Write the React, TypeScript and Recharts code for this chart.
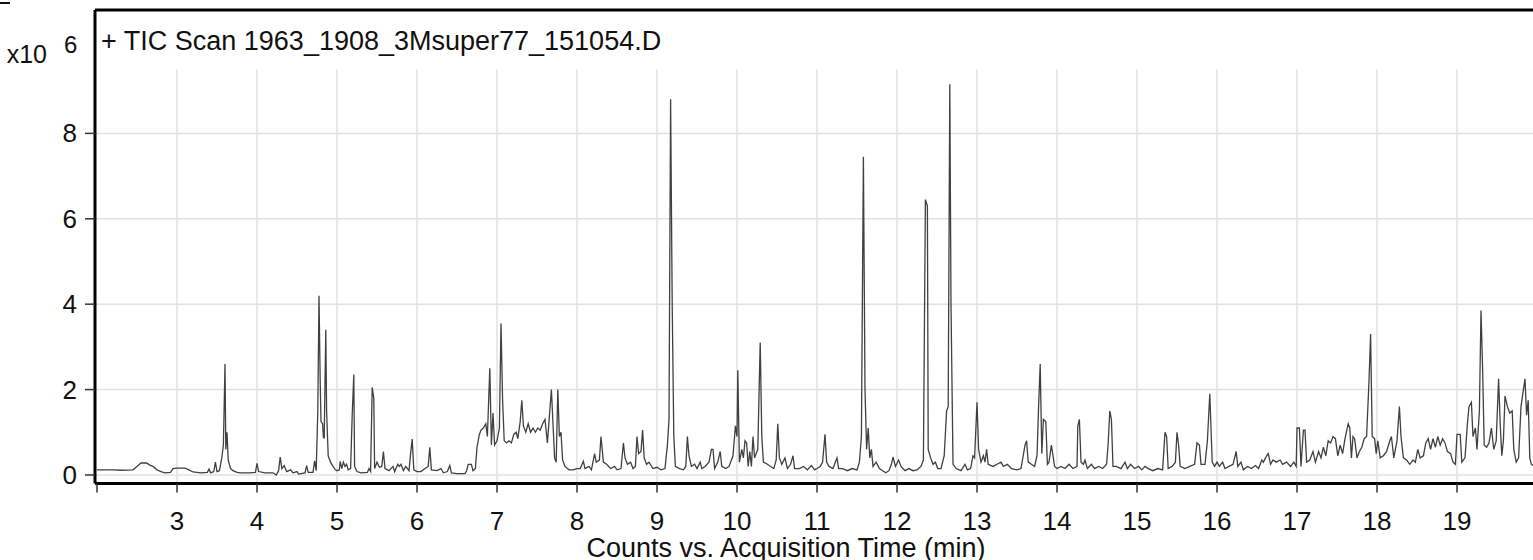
import React from 'react';
import { LineChart, Line, XAxis, YAxis, CartesianGrid, ReferenceLine } from 'recharts';

type Pt = [number, number];

// Total ion current (x10^6 counts) vs acquisition time (min)
const trace2to5: Pt[] = [
  [2.0,0.12],[2.2,0.12],[2.3,0.11],[2.45,0.12],[2.5,0.2],[2.55,0.28],[2.62,0.28],[2.66,0.23],[2.7,0.2],[2.75,0.12],
  [2.8,0.08],[2.85,0.05],[2.92,0.06],[2.95,0.15],[3.0,0.16],[3.1,0.16],[3.15,0.12],[3.2,0.07],[3.3,0.05],[3.38,0.06],
  [3.4,0.14],[3.42,0.05],[3.46,0.08],[3.48,0.3],[3.5,0.08],[3.53,0.1],[3.56,0.4],[3.58,0.7],[3.6,2.6],[3.61,0.6],
  [3.625,1.0],[3.64,0.35],[3.67,0.15],[3.7,0.1],[3.75,0.06],[3.8,0.05],[3.9,0.05],[3.98,0.06],[4.0,0.27],[4.02,0.08],
  [4.1,0.05],[4.2,0.05],[4.24,0.0],[4.27,0.1],[4.29,0.42],[4.31,0.15],[4.34,0.22],[4.37,0.08],[4.42,0.12],[4.45,0.05],
  [4.5,0.08],[4.52,0.02],[4.6,0.05],[4.62,0.22],[4.64,0.06],[4.7,0.06],[4.72,0.33],[4.74,0.1],[4.76,1.5],[4.775,4.2],
  [4.79,2.2],[4.8,1.25],[4.82,1.2],[4.83,0.88],[4.84,0.87],[4.86,3.4],[4.87,1.5],[4.89,0.45],[4.92,0.3],[4.95,0.2],[4.98,0.12],
];

const trace5to8: Pt[] = [
  [5.0,0.1],[5.03,0.12],[5.04,0.32],[5.06,0.15],[5.08,0.3],[5.1,0.2],[5.12,0.25],[5.14,0.12],[5.17,0.15],[5.19,1.4],
  [5.21,2.35],[5.22,0.2],[5.25,0.08],[5.3,0.05],[5.38,0.06],[5.4,0.15],[5.42,0.08],[5.44,2.05],[5.46,1.8],[5.47,0.15],
  [5.5,0.3],[5.53,0.18],[5.56,0.2],[5.58,0.55],[5.6,0.15],[5.65,0.1],[5.7,0.2],[5.72,0.08],[5.76,0.25],[5.78,0.2],
  [5.8,0.25],[5.83,0.1],[5.86,0.2],[5.9,0.1],[5.92,0.5],[5.94,0.84],[5.96,0.12],[6.0,0.08],[6.05,0.08],[6.1,0.15],
  [6.14,0.2],[6.16,0.65],[6.18,0.12],[6.25,0.1],[6.3,0.15],[6.33,0.05],[6.38,0.08],[6.41,0.22],[6.43,0.05],[6.5,0.03],
  [6.6,0.03],[6.62,0.1],[6.64,0.25],[6.68,0.25],[6.7,0.1],[6.73,0.15],[6.75,0.65],[6.78,0.95],[6.8,1.05],[6.83,1.1],
  [6.86,1.2],[6.88,0.9],[6.91,2.5],[6.93,0.7],[6.95,1.45],[6.97,0.7],[7.0,0.8],[7.03,1.1],[7.05,3.55],[7.07,1.75],
  [7.09,0.8],[7.12,0.75],[7.15,0.8],[7.18,0.75],[7.21,0.95],[7.24,1.0],[7.26,0.85],[7.29,1.25],[7.31,1.75],[7.33,1.15],
  [7.36,1.0],[7.39,1.2],[7.42,1.0],[7.45,1.1],[7.48,1.0],[7.51,1.1],[7.54,1.05],[7.57,1.2],[7.6,1.3],[7.63,0.75],
  [7.66,1.5],[7.68,2.0],[7.7,1.2],[7.72,0.4],[7.74,0.3],[7.76,2.0],[7.78,0.9],[7.8,1.0],[7.82,0.35],[7.85,0.2],
  [7.9,0.12],[7.95,0.12],
];

const trace8to11: Pt[] = [
  [8.0,0.15],[8.04,0.15],[8.08,0.32],[8.1,0.15],[8.15,0.2],[8.18,0.12],[8.22,0.5],[8.24,0.3],[8.28,0.35],[8.3,0.9],
  [8.33,0.3],[8.37,0.25],[8.42,0.15],[8.47,0.2],[8.5,0.12],[8.55,0.15],[8.58,0.75],[8.6,0.4],[8.63,0.25],[8.67,0.3],
  [8.7,0.15],[8.73,0.2],[8.75,0.9],[8.77,0.5],[8.8,0.55],[8.82,1.05],[8.84,0.4],[8.87,0.25],[8.9,0.3],[8.95,0.15],
  [9.0,0.18],[9.05,0.12],[9.1,0.15],[9.13,0.7],[9.15,1.3],[9.17,8.8],[9.19,4.0],[9.21,0.9],[9.23,0.2],[9.28,0.15],
  [9.33,0.12],[9.36,0.2],[9.38,0.9],[9.4,0.45],[9.43,0.2],[9.47,0.25],[9.5,0.15],[9.54,0.3],[9.56,0.15],[9.6,0.2],
  [9.65,0.3],[9.68,0.6],[9.7,0.6],[9.72,0.15],[9.76,0.3],[9.79,0.55],[9.81,0.2],[9.86,0.15],[9.9,0.2],[9.95,0.45],
  [9.98,1.15],[10.0,0.9],[10.01,2.45],[10.03,0.3],[10.06,0.6],[10.08,0.4],[10.1,0.8],[10.12,0.75],[10.14,0.2],[10.16,0.55],
  [10.18,0.2],[10.2,0.9],[10.22,0.4],[10.26,0.6],[10.29,3.1],[10.31,0.9],[10.33,0.3],[10.38,0.25],[10.42,0.2],[10.46,0.15],
  [10.49,0.35],[10.51,1.2],[10.53,0.4],[10.56,0.25],[10.6,0.4],[10.63,0.15],[10.67,0.25],[10.7,0.45],[10.72,0.15],[10.78,0.15],
  [10.83,0.2],[10.88,0.12],[10.93,0.22],[10.97,0.12],
];

const trace11to14: Pt[] = [
  [11.0,0.15],[11.04,0.2],[11.07,0.3],[11.1,0.95],[11.12,0.3],[11.15,0.2],[11.2,0.15],[11.25,0.4],[11.27,0.15],[11.32,0.15],
  [11.38,0.1],[11.44,0.15],[11.5,0.12],[11.53,0.3],[11.555,0.9],[11.58,7.45],[11.6,2.0],[11.62,0.6],[11.64,1.1],[11.66,0.4],
  [11.68,0.6],[11.7,0.2],[11.74,0.3],[11.78,0.15],[11.82,0.1],[11.86,0.05],[11.9,0.1],[11.93,0.25],[11.95,0.42],[11.98,0.2],
  [12.02,0.35],[12.05,0.2],[12.1,0.1],[12.15,0.15],[12.2,0.1],[12.25,0.12],[12.3,0.2],[12.33,0.35],[12.355,6.45],[12.38,6.3],
  [12.39,0.6],[12.42,0.4],[12.45,0.25],[12.48,0.3],[12.51,0.15],[12.55,0.15],[12.59,0.45],[12.62,1.5],[12.64,1.6],[12.66,9.15],
  [12.675,4.0],[12.7,0.25],[12.74,0.15],[12.8,0.1],[12.85,0.25],[12.88,0.12],[12.92,0.15],[12.95,0.45],[12.97,0.4],[13.0,1.7],
  [13.02,0.6],[13.05,0.3],[13.08,0.45],[13.1,0.3],[13.12,0.6],[13.14,0.25],[13.2,0.2],[13.25,0.25],[13.3,0.3],[13.33,0.2],
  [13.38,0.25],[13.43,0.15],[13.5,0.12],[13.55,0.15],[13.6,0.7],[13.62,0.8],[13.64,0.3],[13.68,0.25],[13.72,0.2],[13.75,0.45],
  [13.77,1.6],[13.79,2.6],[13.81,0.5],[13.83,1.3],[13.86,1.25],[13.88,0.25],[13.9,0.3],[13.93,0.7],[13.95,0.45],[13.97,0.2],
];

const trace14to17: Pt[] = [
  [14.0,0.15],[14.05,0.2],[14.1,0.15],[14.15,0.25],[14.2,0.15],[14.25,0.2],[14.26,1.15],[14.28,1.3],[14.3,0.3],[14.33,0.25],
  [14.35,0.35],[14.38,0.15],[14.43,0.25],[14.47,0.15],[14.52,0.2],[14.57,0.15],[14.62,0.25],[14.64,0.75],[14.66,1.5],[14.68,1.3],
  [14.7,0.2],[14.74,0.2],[14.8,0.15],[14.85,0.3],[14.88,0.15],[14.92,0.25],[14.97,0.15],[15.02,0.2],[15.06,0.12],[15.1,0.2],
  [15.14,0.15],[15.2,0.1],[15.26,0.15],[15.32,0.12],[15.35,1.0],[15.37,0.9],[15.39,0.15],[15.44,0.2],[15.48,0.3],[15.5,1.0],
  [15.52,0.7],[15.54,0.2],[15.6,0.15],[15.66,0.2],[15.72,0.25],[15.75,0.75],[15.78,0.7],[15.8,0.25],[15.85,0.25],[15.88,0.8],
  [15.91,1.9],[15.94,0.3],[15.97,0.2],[16.0,0.3],[16.03,0.2],[16.07,0.3],[16.1,0.15],[16.15,0.2],[16.2,0.25],[16.24,0.55],
  [16.26,0.2],[16.3,0.3],[16.33,0.12],[16.38,0.2],[16.43,0.15],[16.48,0.22],[16.52,0.15],[16.56,0.35],[16.58,0.3],[16.62,0.45],
  [16.64,0.5],[16.67,0.25],[16.7,0.35],[16.74,0.3],[16.79,0.35],[16.82,0.25],[16.87,0.3],[16.92,0.2],[16.96,0.3],[16.99,0.2],
];

const trace17to20: Pt[] = [
  [17.0,1.1],[17.03,1.1],[17.05,0.2],[17.08,1.05],[17.1,1.05],[17.12,0.3],[17.16,0.35],[17.2,0.55],[17.23,0.3],[17.27,0.55],
  [17.3,0.4],[17.33,0.65],[17.36,0.45],[17.39,0.8],[17.42,0.75],[17.45,0.9],[17.48,0.85],[17.51,0.45],[17.54,0.7],[17.57,0.5],
  [17.6,0.85],[17.64,1.2],[17.66,1.1],[17.68,0.4],[17.7,0.9],[17.72,0.85],[17.75,0.4],[17.78,0.55],[17.81,0.65],[17.84,0.85],
  [17.87,0.9],[17.9,2.2],[17.92,3.3],[17.94,0.9],[17.97,0.85],[17.99,0.5],[18.01,0.8],[18.04,0.4],[18.08,0.45],[18.12,0.55],
  [18.16,0.8],[18.18,0.9],[18.21,0.4],[18.25,0.8],[18.28,1.6],[18.3,0.9],[18.33,0.4],[18.37,0.35],[18.41,0.25],[18.45,0.35],
  [18.48,0.3],[18.51,0.6],[18.54,0.4],[18.58,0.45],[18.61,0.75],[18.64,0.85],[18.67,0.6],[18.7,0.85],[18.73,0.65],[18.76,0.9],
  [18.79,0.7],[18.82,0.85],[18.85,0.75],[18.88,0.55],[18.92,0.5],[18.95,0.3],[18.98,0.25],[19.0,0.95],[19.04,0.95],[19.06,0.3],
  [19.1,0.4],[19.13,1.2],[19.15,1.6],[19.18,1.7],[19.2,0.9],[19.23,1.1],[19.25,0.6],[19.28,1.5],[19.3,3.85],[19.32,2.5],
  [19.34,0.7],[19.37,0.65],[19.4,0.75],[19.43,1.1],[19.46,0.6],[19.49,0.8],[19.52,2.25],[19.54,1.2],[19.56,0.45],[19.58,0.8],
  [19.6,1.85],[19.63,1.6],[19.66,1.45],[19.69,1.5],[19.71,0.6],[19.74,0.3],[19.77,0.4],[19.8,1.6],[19.83,2.0],[19.85,2.25],
  [19.87,1.4],[19.89,1.75],[19.91,0.4],[19.93,0.25],[19.95,0.22],
];

const xTicks = [2, 3, 4, 5, 6, 7, 8, 9, 10, 11, 12, 13, 14, 15, 16, 17, 18, 19];
const gridMinutes = [3, 4, 5, 6, 7, 8, 9, 10, 11, 12, 13, 14, 15, 16, 17, 18, 19];
const yTicks = [0, 2, 4, 6, 8];
const xDomain: [number, number] = [1.975, 19.95];
const yDomain: [number, number] = [-0.2, 10.89];
const gridTop = 9.5;

const titleText = '+ TIC Scan 1963_1908_3Msuper77_151054.D';
const xAxisLabel = 'Counts vs. Acquisition Time (min)';
const yScaleBase = 'x10';
const yScaleExp = '6';

const data = [...trace2to5, ...trace5to8, ...trace8to11, ...trace11to14, ...trace14to17, ...trace17to20]
  .map(([t, v]) => ({ t, v }));

const FONT = "'Liberation Sans', Arial, Helvetica, sans-serif";

const XTick = (props: any) => {
  const { x, y, payload } = props;
  if (payload.value === 2) return <g />;
  return (
    <text x={x} y={y + 35} textAnchor="middle" fontFamily={FONT} fontSize={26} fill="#111">
      {payload.value}
    </text>
  );
};

const YTick = (props: any) => {
  const { x, y, payload } = props;
  return (
    <text x={x} y={y + 9} textAnchor="end" fontFamily={FONT} fontSize={26} fill="#111">
      {payload.value}
    </text>
  );
};

export default function App() {
  return (
    <div style={{ position: 'fixed', left: 0, top: 0, width: 1533, height: 560, background: '#fff', overflow: 'hidden' }}>
      <LineChart width={1533} height={560} data={data} margin={{ top: 10, right: 0, bottom: 0, left: 0 }}>
        <CartesianGrid vertical={false} stroke="#e2e2e2" strokeWidth={1.5} />
        {gridMinutes.map((m) => (
          <ReferenceLine
            key={m}
            segment={[{ x: m, y: yDomain[0] }, { x: m, y: gridTop }]}
            stroke="#e2e2e2"
            strokeWidth={1.5}
          />
        ))}
        <XAxis
          dataKey="t"
          type="number"
          domain={xDomain}
          ticks={xTicks}
          allowDataOverflow
          height={76.5}
          tickSize={9}
          tickMargin={2}
          axisLine={{ stroke: '#000', strokeWidth: 3 }}
          tickLine={{ stroke: '#333', strokeWidth: 1.5 }}
          tick={<XTick />}
          interval={0}
        />
        <YAxis
          type="number"
          domain={yDomain}
          ticks={yTicks}
          allowDataOverflow
          width={95}
          tickSize={10}
          tickMargin={8}
          axisLine={{ stroke: '#000', strokeWidth: 3 }}
          tickLine={{ stroke: '#333', strokeWidth: 1.5 }}
          tick={<YTick />}
          interval={0}
        />
        <ReferenceLine y={yDomain[1]} stroke="#000" strokeWidth={3} />
        <Line
          type="linear"
          dataKey="v"
          stroke="#404040"
          strokeWidth={1.3}
          dot={false}
          isAnimationActive={false}
        />
      </LineChart>
      <svg width={1533} height={560} style={{ position: 'absolute', left: 0, top: 0, pointerEvents: 'none' }}>
        <rect x={0} y={2} width={10} height={2} fill="#111" />
        <text x={101} y={50} fontFamily={FONT} fontSize={27} fill="#111">{titleText}</text>
        <text x={47} y={63} textAnchor="end" fontFamily={FONT} fontSize={25} fill="#111">{yScaleBase}</text>
        <text x={64} y={53} fontFamily={FONT} fontSize={24} fill="#111">{yScaleExp}</text>
        <text x={786} y={557} textAnchor="middle" fontFamily={FONT} fontSize={27} fill="#111">{xAxisLabel}</text>
      </svg>
    </div>
  );
}
